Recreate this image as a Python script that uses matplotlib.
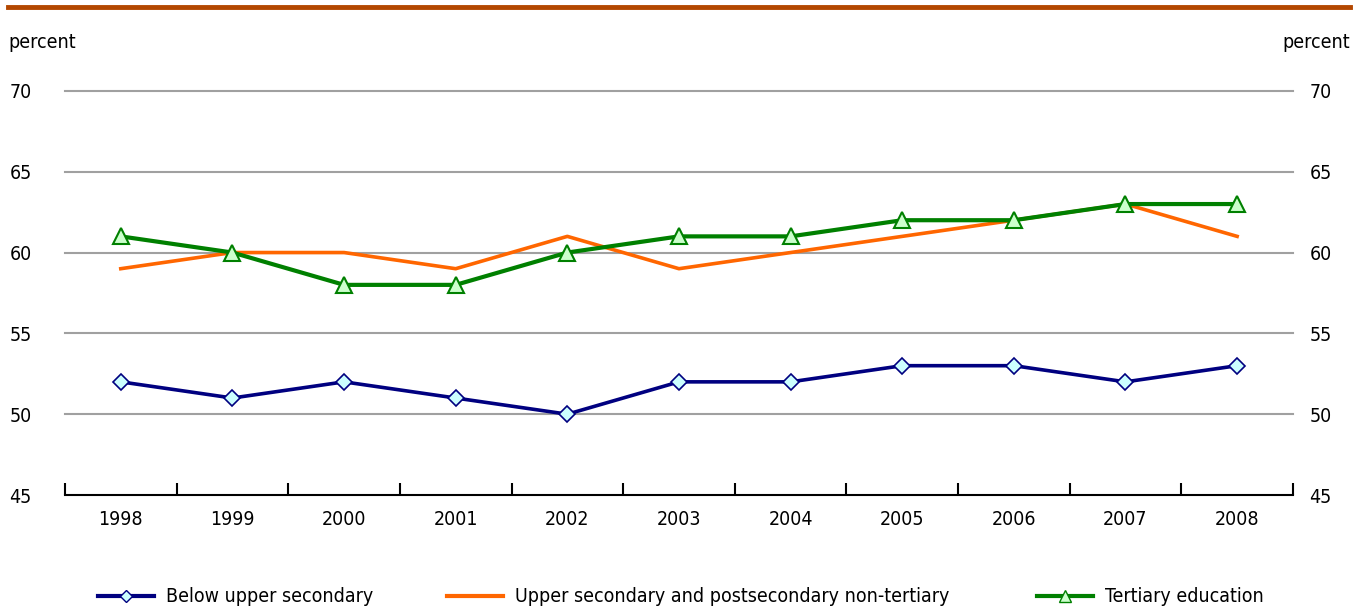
import matplotlib.pyplot as plt
from matplotlib.lines import Line2D
import numpy as np

plt.rcParams['font.family'] = ['Liberation Sans Narrow', 'DejaVu Sans']
plt.rcParams['font.stretch'] = 'condensed'

years = ['1998', '1999', '2000', '2001', '2002', '2003', '2004', '2005', '2006', '2007', '2008']
below_upper = [52, 51, 52, 51, 50, 52, 52, 53, 53, 52, 53]
upper_secondary = [59, 60, 60, 59, 61, 59, 60, 61, 62, 63, 61]
tertiary = [61, 60, 58, 58, 60, 61, 61, 62, 62, 63, 63]

x = np.arange(len(years))

fig = plt.figure(figsize=(13.62, 6.1), dpi=100)
ax = fig.add_axes([0.0477, 0.1885, 0.9016, 0.6625])

ax.plot(x, below_upper, color='#000080', lw=2.6, marker='D', markersize=8,
        markerfacecolor='#ccffff', markeredgecolor='#000080', markeredgewidth=1.2,
        zorder=3)
ax.plot(x, upper_secondary, color='#ff6600', lw=2.6, zorder=3)
ax.plot(x, tertiary, color='#008000', lw=3, marker='^', markersize=12,
        markerfacecolor='#ccffcc', markeredgecolor='#008000', markeredgewidth=1.5,
        zorder=4)

ax.set_xlim(-0.5, 10.5)
ax.set_ylim(45, 70)
ax.set_yticks([45, 50, 55, 60, 65, 70])
for v in [50, 55, 60, 65, 70]:
    ax.axhline(v, color='#a0a0a0', lw=1.5, zorder=1, clip_on=False)

ax.set_xticks(x)
ax.set_xticklabels(years)
ax.set_xticks(np.arange(-0.5, 11, 1), minor=True)
ax.tick_params(axis='x', which='major', length=0, pad=11, labelsize=14)
ax.tick_params(axis='x', which='minor', direction='in', length=9, width=1.5)
ax.tick_params(axis='y', length=0, labelsize=14, pad=40)
for lab in ax.get_yticklabels():
    lab.set_horizontalalignment('left')

# right hand scale is the same
ax2 = ax.twinx()
ax2.set_ylim(ax.get_ylim())
ax2.set_yticks(ax.get_yticks())
ax2.tick_params(axis='y', length=0, labelsize=14, pad=12)

for a in (ax, ax2):
    for s in ['top', 'left', 'right']:
        a.spines[s].set_visible(False)
ax2.spines['bottom'].set_visible(False)
ax.spines['bottom'].set_linewidth(1.5)

fig.text(8 / 1362, 1 - 43 / 610, 'percent', fontsize=14, va='center', ha='left')
fig.text(1350 / 1362, 1 - 43 / 610, 'percent', fontsize=14, va='center', ha='right')

fig.add_artist(Line2D([8 / 1362, 1350 / 1362], [1 - 7 / 610, 1 - 7 / 610],
                      color='#b34700', lw=3.5))

# legend, one entry per block as in the original
handles = [
    Line2D([], [], color='#000080', lw=3, marker='D', markersize=6,
           markerfacecolor='#ccffff', markeredgecolor='#000080'),
    Line2D([], [], color='#ff6600', lw=3),
    Line2D([], [], color='#008000', lw=3, marker='^', markersize=8,
           markerfacecolor='#ccffcc', markeredgecolor='#008000'),
]
labels = ['Below upper secondary',
          'Upper secondary and postsecondary non-tertiary',
          'Tertiary education']
starts = [98, 447, 1037]
for h, lab, x0 in zip(handles, labels, starts):
    leg = fig.legend([h], [lab], loc='center left',
                     bbox_to_anchor=(x0 / 1362, 1 - 597 / 610),
                     frameon=False, fontsize=14, handlelength=2.9,
                     handletextpad=0.6, borderpad=0, borderaxespad=0)

fig.savefig('out.png', dpi=100)
